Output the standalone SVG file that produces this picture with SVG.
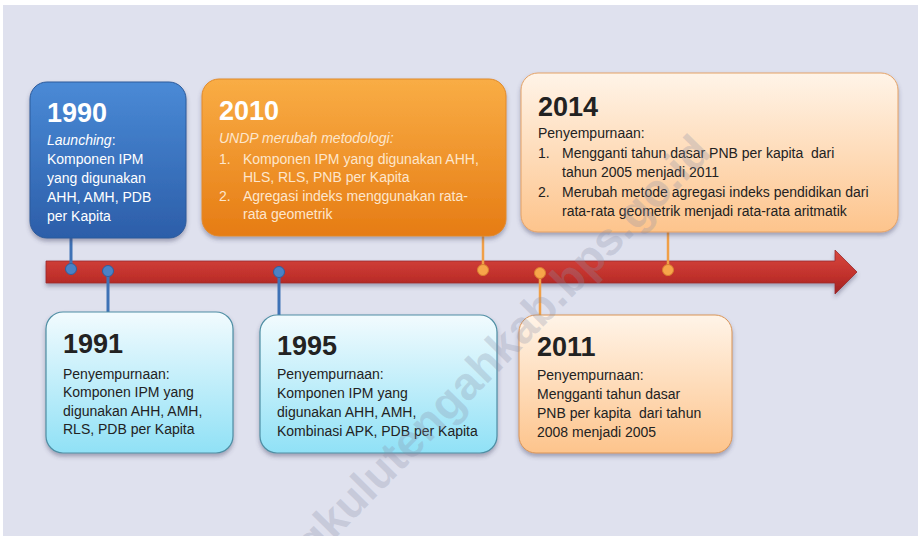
<svg xmlns="http://www.w3.org/2000/svg" width="918" height="536" viewBox="0 0 918 536">
<defs>
<linearGradient id="gBlue" x1="0" y1="0" x2="0" y2="1"><stop offset="0" stop-color="#4a8ad6"/><stop offset="1" stop-color="#2c5ea9"/></linearGradient>
<linearGradient id="gOrange" x1="0" y1="0" x2="0" y2="1"><stop offset="0" stop-color="#f9ad45"/><stop offset="1" stop-color="#e67c14"/></linearGradient>
<linearGradient id="gPeach" x1="0" y1="0" x2="0" y2="1"><stop offset="0" stop-color="#fff4e8"/><stop offset="1" stop-color="#fdc48c"/></linearGradient>
<linearGradient id="gCyan" x1="0" y1="0" x2="0" y2="1"><stop offset="0" stop-color="#f2fbfe"/><stop offset="1" stop-color="#90e1f6"/></linearGradient>
<linearGradient id="gRed" x1="0" y1="0" x2="0" y2="1"><stop offset="0" stop-color="#d8473f"/><stop offset="0.6" stop-color="#c0302b"/><stop offset="1" stop-color="#9e2222"/></linearGradient>
<filter id="sh" x="-10%" y="-10%" width="120%" height="125%"><feDropShadow dx="0" dy="3" stdDeviation="2" flood-color="#404060" flood-opacity="0.4"/></filter>
<style>
text{font-family:"Liberation Sans",Arial,sans-serif}
.yr{font-size:27px;font-weight:bold}
.b{font-size:14px}
.dk{fill:#222222}
.wt{fill:#ffffff}
.cr{fill:#fde6cc}
.lb{stroke:#3e72b6;stroke-width:3;fill:none}
.lo{stroke:#f0a048;stroke-width:2.5;fill:none}
.db{fill:#4a82c6;stroke:#2f5f9e;stroke-width:1}
.do{fill:#f7a64a;stroke:#d98030;stroke-width:1}
</style>
</defs>
<rect x="0" y="0" width="918" height="536" fill="#ffffff"/>
<rect x="3" y="5" width="915" height="531" fill="#dfe1ee"/>

<g id="arrow">
<path d="M46,261 H835 V250 L857,272 L835,294 V283 H46 Z" fill="url(#gRed)" stroke="#9a2a2a" stroke-width="0.8" filter="url(#sh)"/>
</g>

<g id="connectors">
<line class="lb" x1="71" y1="236" x2="71" y2="269"/>
<line class="lb" x1="108" y1="271" x2="108" y2="313"/>
<line class="lb" x1="279" y1="272" x2="279" y2="316"/>
<line class="lo" x1="483" y1="234" x2="483" y2="270"/>
<line class="lo" x1="540" y1="273" x2="540" y2="316"/>
<line class="lo" x1="668" y1="231" x2="668" y2="270"/>
<circle class="db" cx="71" cy="269" r="5.5"/>
<circle class="db" cx="108" cy="271" r="5.5"/>
<circle class="db" cx="279" cy="272" r="5.5"/>
<circle class="do" cx="483" cy="270" r="5.5"/>
<circle class="do" cx="540" cy="273" r="5.5"/>
<circle class="do" cx="668" cy="270" r="5.5"/>
</g>

<g id="n1990">
<rect x="30" y="82" width="156" height="156" rx="17" fill="url(#gBlue)" stroke="#2c5a9a" stroke-width="1" filter="url(#sh)"/>
<text class="yr wt" x="47" y="122">1990</text>
<text class="b wt" x="47" y="145"><tspan font-style="italic">Launching</tspan>:</text>
<text class="b wt" x="47" y="164">Komponen IPM</text>
<text class="b wt" x="47" y="183">yang digunakan</text>
<text class="b wt" x="47" y="202">AHH, AMH, PDB</text>
<text class="b wt" x="47" y="221">per Kapita</text>
</g>

<g id="n2010">
<rect x="202" y="79" width="304" height="157" rx="17" fill="url(#gOrange)" stroke="#e08a2a" stroke-width="1" filter="url(#sh)"/>
<text class="yr wt" x="219" y="120">2010</text>
<text class="b cr" x="219" y="143" font-style="italic">UNDP merubah metodologi:</text>
<text class="b cr" x="219" y="164">1.</text>
<text class="b cr" x="243" y="164">Komponen IPM yang digunakan AHH,</text>
<text class="b cr" x="243" y="182">HLS, RLS, PNB per Kapita</text>
<text class="b cr" x="219" y="201">2.</text>
<text class="b cr" x="243" y="201">Agregasi indeks menggunakan rata-</text>
<text class="b cr" x="243" y="219">rata geometrik</text>
</g>

<g id="n2014">
<rect x="521" y="73" width="377" height="159" rx="17" fill="url(#gPeach)" stroke="#e4a266" stroke-width="1" filter="url(#sh)"/>
<text class="yr dk" x="538" y="116">2014</text>
<text class="b dk" x="538" y="138">Penyempurnaan:</text>
<text class="b dk" x="538" y="158">1.</text>
<text class="b dk" x="562" y="158" xml:space="preserve">Mengganti tahun dasar PNB per kapita  dari</text>
<text class="b dk" x="562" y="177">tahun 2005 menjadi 2011</text>
<text class="b dk" x="538" y="197">2.</text>
<text class="b dk" x="562" y="197">Merubah metode agregasi indeks pendidikan dari</text>
<text class="b dk" x="562" y="216">rata-rata geometrik menjadi rata-rata aritmatik</text>
</g>

<g id="n1991">
<rect x="46" y="312" width="187" height="141" rx="17" fill="url(#gCyan)" stroke="#4e8ea4" stroke-width="1.2" filter="url(#sh)"/>
<text class="yr dk" x="63" y="353">1991</text>
<text class="b dk" x="63" y="379">Penyempurnaan:</text>
<text class="b dk" x="63" y="397">Komponen IPM yang</text>
<text class="b dk" x="63" y="416">digunakan AHH, AMH,</text>
<text class="b dk" x="63" y="434">RLS, PDB per Kapita</text>
</g>

<g id="n1995">
<rect x="260" y="315" width="237" height="138" rx="17" fill="url(#gCyan)" stroke="#4e8ea4" stroke-width="1.2" filter="url(#sh)"/>
<text class="yr dk" x="277" y="355">1995</text>
<text class="b dk" x="277" y="379">Penyempurnaan:</text>
<text class="b dk" x="277" y="398">Komponen IPM yang</text>
<text class="b dk" x="277" y="417">digunakan AHH, AMH,</text>
<text class="b dk" x="277" y="436">Kombinasi APK, PDB per Kapita</text>
</g>

<g id="n2011">
<rect x="519" y="315" width="213" height="138" rx="17" fill="url(#gPeach)" stroke="#d99456" stroke-width="1" filter="url(#sh)"/>
<text class="yr dk" x="537" y="356">2011</text>
<text class="b dk" x="537" y="380">Penyempurnaan:</text>
<text class="b dk" x="537" y="399">Mengganti tahun dasar</text>
<text class="b dk" x="537" y="418" xml:space="preserve">PNB per kapita  dari tahun</text>
<text class="b dk" x="537" y="437">2008 menjadi 2005</text>
</g>

<g id="watermark">
<text x="0" y="0" transform="translate(713,154) rotate(-45.5)" text-anchor="end" font-size="46" font-weight="bold" fill="#8a90a8" fill-opacity="0.28">bengkulutengahkab.bps.go.id</text>
</g>
</svg>
